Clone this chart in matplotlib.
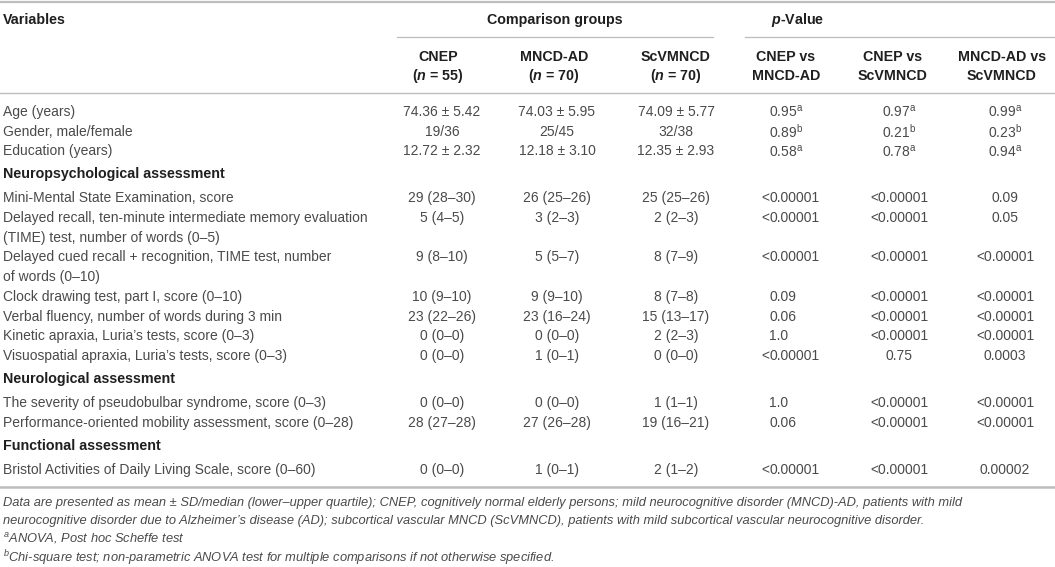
import matplotlib
matplotlib.use("Agg")
import matplotlib.pyplot as plt

# table content
group_names = ["CNEP", "MNCD-AD", "ScVMNCD"]
group_n = [55, 70, 70]
comparisons = [("CNEP vs", "MNCD-AD"), ("CNEP vs", "ScVMNCD"), ("MNCD-AD vs", "ScVMNCD")]

row_labels = [
    "Age (years)",
    "Gender, male/female",
    "Education (years)",
    "Mini-Mental State Examination, score",
    "Delayed recall, ten-minute intermediate memory evaluation\n(TIME) test, number of words (0–5)",
    "Delayed cued recall + recognition, TIME test, number\nof words (0–10)",
    "Clock drawing test, part I, score (0–10)",
    "Verbal fluency, number of words during 3 min",
    "Kinetic apraxia, Luria’s tests, score (0–3)",
    "Visuospatial apraxia, Luria’s tests, score (0–3)",
    "The severity of pseudobulbar syndrome, score (0–3)",
    "Performance-oriented mobility assessment, score (0–28)",
    "Bristol Activities of Daily Living Scale, score (0–60)",
]
# section header shown before the row with this index
sections = {3: "Neuropsychological assessment",
            10: "Neurological assessment",
            12: "Functional assessment"}

cnep = ["74.36 ± 5.42", "19/36", "12.72 ± 2.32", "29 (28–30)", "5 (4–5)", "9 (8–10)",
        "10 (9–10)", "23 (22–26)", "0 (0–0)", "0 (0–0)", "0 (0–0)", "28 (27–28)", "0 (0–0)"]
mncd_ad = ["74.03 ± 5.95", "25/45", "12.18 ± 3.10", "26 (25–26)", "3 (2–3)", "5 (5–7)",
           "9 (9–10)", "23 (16–24)", "0 (0–0)", "1 (0–1)", "0 (0–0)", "27 (26–28)", "1 (0–1)"]
scvmncd = ["74.09 ± 5.77", "32/38", "12.35 ± 2.93", "25 (25–26)", "2 (2–3)", "8 (7–9)",
           "8 (7–8)", "15 (13–17)", "2 (2–3)", "0 (0–0)", "1 (1–1)", "19 (16–21)", "2 (1–2)"]

p_cnep_mncd = ["0.95", "0.89", "0.58", "<0.00001", "<0.00001", "<0.00001", "0.09", "0.06",
               "1.0", "<0.00001", "1.0", "0.06", "<0.00001"]
p_cnep_scv = ["0.97", "0.21", "0.78", "<0.00001", "<0.00001", "<0.00001", "<0.00001",
              "<0.00001", "<0.00001", "0.75", "<0.00001", "<0.00001", "<0.00001"]
p_mncd_scv = ["0.99", "0.23", "0.94", "0.09", "0.05", "<0.00001", "<0.00001", "<0.00001",
              "<0.00001", "0.0003", "<0.00001", "<0.00001", "0.00002"]
test_mark = ["a", "b", "a"] + [""] * 10

footnotes = [
    "Data are presented as mean ± SD/median (lower–upper quartile); CNEP, cognitively normal "
    "elderly persons; mild neurocognitive disorder (MNCD)-AD, patients with mild",
    "neurocognitive disorder due to Alzheimer’s disease (AD); subcortical vascular MNCD "
    "(ScVMNCD), patients with mild subcortical vascular neurocognitive disorder.",
    "$^{a}$ANOVA, Post hoc Scheffe test",
    "$^{b}$Chi-square test; non-parametric ANOVA test for multiple comparisons if not "
    "otherwise specified.",
]

plt.rcParams["font.family"] = ["Liberation Sans", "DejaVu Sans"]
plt.rcParams["mathtext.fontset"] = "custom"
plt.rcParams["mathtext.rm"] = "Liberation Sans"
plt.rcParams["mathtext.it"] = "Liberation Sans:italic"
plt.rcParams["mathtext.bf"] = "Liberation Sans:bold"
plt.rcParams["mathtext.bfit"] = "Liberation Sans:italic:bold"

BODY = "#4a4a4a"
HEAD = "#1f1f1f"
RULE = "#bdbdbd"
FS = 10.0
FS_HEAD = 10.3

fig = plt.figure(figsize=(10.55, 5.67), dpi=100)
ax = fig.add_axes([0, 0, 1, 1])
ax.set_xlim(0, 1055)
ax.set_ylim(567, 0)
ax.axis("off")

# rules
ax.plot([0, 1055], [2, 2], color=RULE, lw=1.6)
ax.plot([397, 713], [37, 37], color=RULE, lw=0.9)
ax.plot([745, 1055], [37, 37], color=RULE, lw=0.9)
ax.plot([0, 1055], [93, 93], color=RULE, lw=1.0)
ax.plot([0, 1055], [487, 487], color=RULE, lw=1.8)

# header
hk = dict(fontsize=FS_HEAD, fontweight="bold", color=HEAD, va="center")
ax.text(3, 20, "Variables", ha="left", **hk)
ax.text(555, 20, "Comparison groups", ha="center", **hk)
ax.text(798, 20, r"$\mathbfit{p}$-Value", ha="center", **hk)

head_x = [438, 554, 676, 786, 893, 1002]
for i, name in enumerate(group_names):
    ax.text(head_x[i], 57, name, ha="center", **hk)
    ax.text(head_x[i], 76, r"($\mathbfit{n}$ = %d)" % group_n[i], ha="center", **hk)
for i, (l1, l2) in enumerate(comparisons):
    ax.text(head_x[3 + i], 57, l1, ha="center", **hk)
    ax.text(head_x[3 + i], 76, l2, ha="center", **hk)

# body
bk = dict(fontsize=FS, color=BODY, va="center")
group_x = [442, 557, 676]
line_step = 19.7
y = 112
for i, label in enumerate(row_labels):
    if i in sections:
        y += 23 - line_step
        ax.text(3, y, sections[i], ha="left", **hk)
        y += 24
    lines = label.split("\n")
    for k, ln in enumerate(lines):
        ax.text(3, y + k * line_step, ln, ha="left", **bk)
    for x, vals in zip(group_x, [cnep, mncd_ad, scvmncd]):
        ax.text(x, y, vals[i], ha="center", **bk)
    mark = "$^{\\mathrm{%s}}$" % test_mark[i] if test_mark[i] else ""
    # first p column lines up on the leading zero
    v = p_cnep_mncd[i]
    if v.startswith("<"):
        ax.text(769, y, "<", ha="right", **bk)
        v = v[1:]
    ax.text(769, y, v + mark, ha="left", **bk)
    ax.text(899, y, p_cnep_scv[i] + mark, ha="center", **bk)
    ax.text(1005, y, p_mncd_scv[i] + mark, ha="center", **bk)
    y += line_step * len(lines)

# footnotes
fy = [503, 521, 539, 558]
for t, yy in zip(footnotes, fy):
    ax.text(3, yy, t, ha="left", va="center", fontsize=9.3, fontstyle="italic", color=BODY)

fig.savefig("out.png", dpi=100)
